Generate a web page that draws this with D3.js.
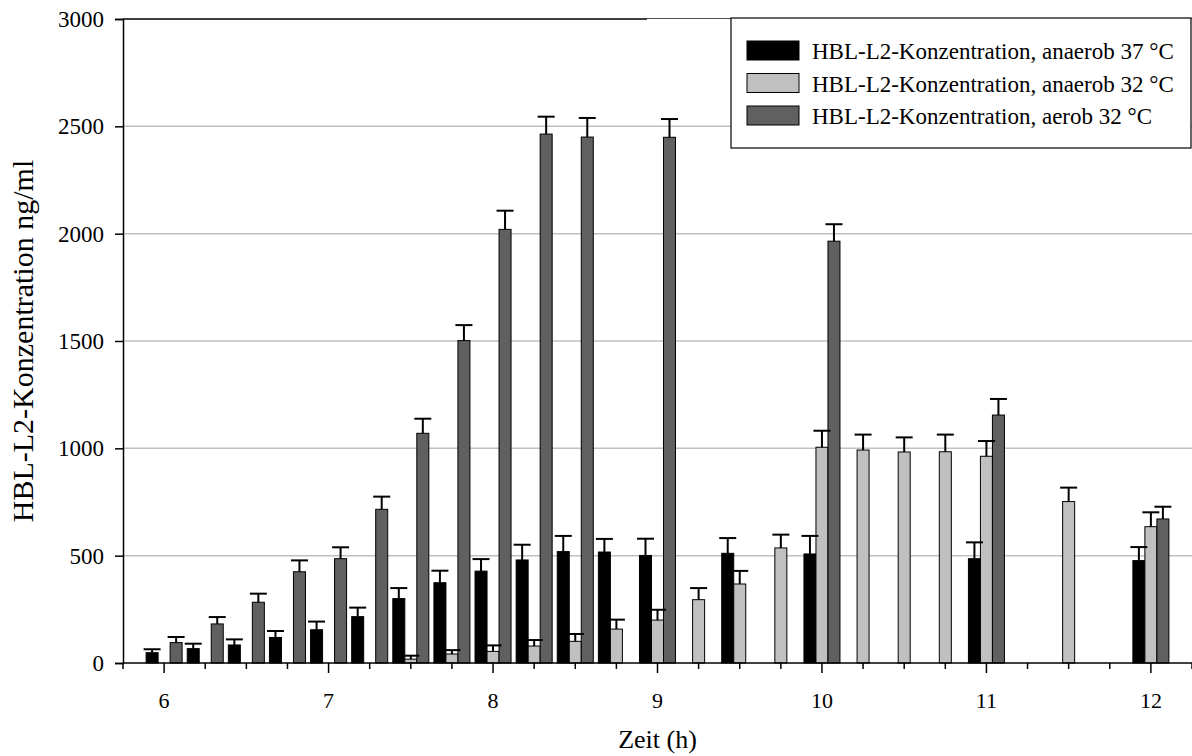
<!DOCTYPE html>
<html>
<head>
<meta charset="utf-8">
<script src="https://cdn.jsdelivr.net/npm/d3@7/dist/d3.min.js"></script>
<style>
  html, body { margin: 0; padding: 0; background: #fff; }
  svg { display: block; font-family: "Liberation Serif", "Times New Roman", serif; }
</style>
</head>
<body>
<svg id="chart" width="1192" height="756"></svg>
<script>
// Sampling times (h)
const times = [6, 6.25, 6.5, 6.75, 7, 7.25, 7.5, 7.75, 8, 8.25, 8.5, 8.75, 9,
               9.25, 9.5, 9.75, 10, 10.25, 10.5, 10.75, 11, 11.25, 11.5, 11.75, 12];

// HBL-L2 concentration (ng/ml) and standard deviation per condition; null = not measured
const anaerob37 = [48, 67, 84, 119, 155, 216, 300, 374, 428, 480, 519, 517, 501,
                   null, 511, null, 508, null, null, null, 486, null, null, null, 477];
const anaerob37Err = [16, 23, 26, 30, 38, 42, 49, 56, 56, 71, 73, 61, 78,
                      null, 71, null, 84, null, null, null, 76, null, null, null, 63];

const anaerob32 = [null, null, null, null, null, null, 18, 42, 54, 79, 101, 158, 200,
                   295, 368, 536, 1005, 992, 983, 984, 963, null, 752, null, 635];
const anaerob32Err = [null, null, null, null, null, null, 16, 18, 28, 28, 34, 44, 48,
                      54, 61, 62, 77, 72, 68, 80, 71, null, 65, null, 67];

const aerob32 = [95, 182, 283, 425, 486, 716, 1070, 1502, 2020, 2464, 2450, null, 2449,
                 null, null, null, 1965, null, null, null, 1155, null, null, null, 671];
const aerob32Err = [26, 32, 40, 53, 53, 59, 68, 72, 87, 81, 89, null, 85,
                    null, null, null, 79, null, null, null, 75, null, null, null, 57];

const seriesNames = [
  "HBL-L2-Konzentration, anaerob 37 °C",
  "HBL-L2-Konzentration, anaerob 32 °C",
  "HBL-L2-Konzentration, aerob 32 °C"
];
const seriesColors = ["#000000", "#c0c0c0", "#606060"];

const yTicks = [0, 500, 1000, 1500, 2000, 2500, 3000];
const xTickLabels = [6, 7, 8, 9, 10, 11, 12];

const series = [
  { key: "a37", name: seriesNames[0], color: seriesColors[0], values: anaerob37, errs: anaerob37Err },
  { key: "a32", name: seriesNames[1], color: seriesColors[1], values: anaerob32, errs: anaerob32Err },
  { key: "o32", name: seriesNames[2], color: seriesColors[2], values: aerob32,   errs: aerob32Err }
];

const svg = d3.select("#chart");
const W = 1192, H = 756;
const margin = { top: 19, right: 0, bottom: 93, left: 123 };
const iw = W - margin.left - margin.right;
const ih = H - margin.top - margin.bottom;

const g = svg.append("g").attr("transform", `translate(${margin.left},${margin.top})`);

const x = d3.scaleLinear().domain([5.75, 12.25]).range([0, iw]);
const y = d3.scaleLinear().domain([0, 3000]).range([ih, 0]);

const step = x(times[1]) - x(times[0]);
const groupW = step * 0.876;
const sub = d3.scaleBand().domain(series.map(s => s.key)).range([-groupW / 2, groupW / 2]);

// horizontal gridlines
g.append("g")
  .selectAll("line")
  .data(yTicks.filter(t => t > 0 && t < 3000))
  .join("line")
  .attr("x1", 0).attr("x2", iw)
  .attr("y1", d => y(d)).attr("y2", d => y(d))
  .attr("stroke", "#c0c0c0").attr("stroke-width", 1.5);

// top frame line
g.append("line").attr("x1", 0).attr("x2", 524).attr("y1", y(3000)).attr("y2", y(3000))
  .attr("stroke", "#000").attr("stroke-width", 1.5);
g.append("line").attr("x1", 524).attr("x2", iw).attr("y1", y(3000) - 0.5).attr("y2", y(3000) - 0.5)
  .attr("stroke", "#505050").attr("stroke-width", 1.2);

// bars
const flat = [];
series.forEach(s => {
  times.forEach((t, i) => {
    if (s.values[i] != null) flat.push({ key: s.key, color: s.color, t, v: s.values[i], e: s.errs[i] });
  });
});

g.append("g").selectAll("rect")
  .data(flat)
  .join("rect")
  .attr("x", d => x(d.t) + sub(d.key))
  .attr("width", sub.bandwidth())
  .attr("y", d => y(d.v))
  .attr("height", d => y(0) - y(d.v))
  .attr("fill", d => d.color)
  .attr("stroke", "#000").attr("stroke-width", 1);

// error bars (upper)
const capW = 17;
const eg = g.append("g").attr("stroke", "#000").attr("stroke-width", 2);
eg.selectAll("line.stem").data(flat).join("line").attr("class", "stem")
  .attr("x1", d => x(d.t) + sub(d.key) + sub.bandwidth() / 2)
  .attr("x2", d => x(d.t) + sub(d.key) + sub.bandwidth() / 2)
  .attr("y1", d => y(d.v)).attr("y2", d => y(d.v + d.e));
eg.selectAll("line.cap").data(flat).join("line").attr("class", "cap")
  .attr("x1", d => x(d.t) + sub(d.key) + sub.bandwidth() / 2 - capW / 2)
  .attr("x2", d => x(d.t) + sub(d.key) + sub.bandwidth() / 2 + capW / 2)
  .attr("y1", d => y(d.v + d.e)).attr("y2", d => y(d.v + d.e));

// y axis
const yAxis = g.append("g")
  .call(d3.axisLeft(y).tickValues(yTicks).tickSize(8).tickPadding(11).tickFormat(d3.format("d")));
yAxis.select(".domain").attr("stroke", "#000").attr("stroke-width", 1.5);
yAxis.selectAll(".tick line").attr("stroke", "#000").attr("stroke-width", 1.5);
yAxis.selectAll(".tick text").attr("font-size", 23).attr("fill", "#000")
  .attr("font-family", "Liberation Serif, Times New Roman, serif");

// x axis: minor ticks every quarter hour, major ticks at full hours
const xg = g.append("g").attr("transform", `translate(0,${ih})`);
xg.append("line").attr("x1", 0).attr("x2", iw).attr("y1", 0).attr("y2", 0)
  .attr("stroke", "#000").attr("stroke-width", 1.5);
const quarterTicks = [5.75].concat(times, [12.25]);
xg.selectAll("line.minor").data(quarterTicks).join("line").attr("class", "minor")
  .attr("x1", d => x(d)).attr("x2", d => x(d))
  .attr("y1", 0).attr("y2", d => xTickLabels.includes(d) ? 10 : 6)
  .attr("stroke", "#000").attr("stroke-width", 1.5);
xg.selectAll("text").data(xTickLabels).join("text")
  .attr("x", d => x(d)).attr("y", 45)
  .attr("text-anchor", "middle").attr("font-size", 22).attr("fill", "#000")
  .text(d => d);

// axis titles
svg.append("text")
  .attr("x", margin.left + iw / 2).attr("y", 748)
  .attr("text-anchor", "middle").attr("font-size", 26).attr("fill", "#000")
  .text("Zeit (h)");

svg.append("text")
  .attr("transform", `translate(33,${margin.top + ih / 2}) rotate(-90)`)
  .attr("text-anchor", "middle").attr("font-size", 30).attr("fill", "#000")
  .text("HBL-L2-Konzentration ng/ml");

// legend
const lg = svg.append("g").attr("transform", "translate(731,18)");
lg.append("rect").attr("width", 460).attr("height", 130)
  .attr("fill", "#fff").attr("stroke", "#000").attr("stroke-width", 1.2);
const rows = lg.selectAll("g.row").data(series).join("g").attr("class", "row")
  .attr("transform", (d, i) => `translate(16,${23 + i * 32.5})`);
rows.append("rect").attr("width", 52).attr("height", 19)
  .attr("fill", d => d.color).attr("stroke", "#000").attr("stroke-width", 1);
rows.append("text").attr("x", 65).attr("y", 18)
  .attr("font-size", 23).attr("fill", "#000")
  .text(d => d.name);
</script>
</body>
</html>
